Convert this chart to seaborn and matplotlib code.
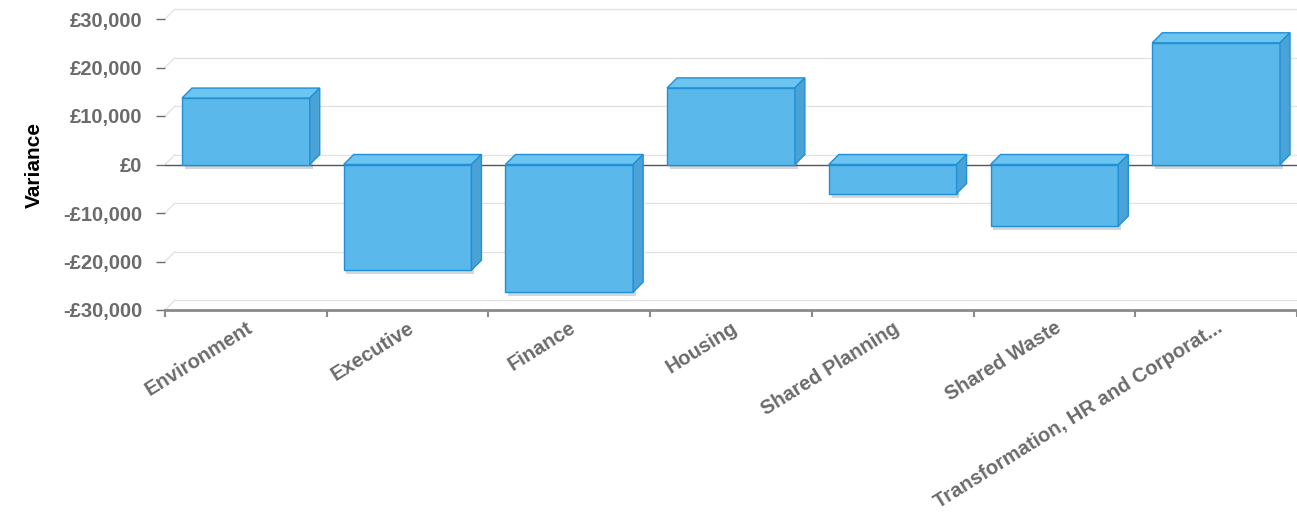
import matplotlib
matplotlib.use("Agg")
import matplotlib.pyplot as plt
import matplotlib.patheffects as pe
from matplotlib.patches import Polygon
from matplotlib.ticker import FuncFormatter
import seaborn as sns

# data
departments = ["Environment", "Executive", "Finance", "Housing",
               "Shared Planning", "Shared Waste", "Transformation, HR and Corporat..."]
variance = [13700, -21800, -26300, 15800, -6000, -12700, 25100]
y_ticks = [-30000, -20000, -10000, 0, 10000, 20000, 30000]

FRONT = "#5ab9ea"
TOP = "#6cc4f0"
SIDE = "#4aa2d6"
EDGE = "#2290d6"
GRID = "#e3e3e3"
LABEL = "#6b6b6b"

sns.set_theme(style="white")
plt.rcParams["font.family"] = ["Liberation Sans", "DejaVu Sans"]

W, H = 1297, 527
fig = plt.figure(figsize=(W / 100, H / 100), dpi=100)
ax = fig.add_axes([165 / W, 1 - 310 / H, 1 - 165 / W, (310 - 19) / H])

sns.barplot(x=departments, y=variance, color=FRONT, saturation=1, width=0.79,
            edgecolor=EDGE, linewidth=1, ax=ax, zorder=3)
ax.set_xlim(-0.5, len(departments) - 0.5)
ax.set_ylim(y_ticks[0], y_ticks[-1])

# pseudo-3D depth, ~10px right and up
px_x = (ax.get_xlim()[1] - ax.get_xlim()[0]) / (ax.bbox.width)
px_y = (ax.get_ylim()[1] - ax.get_ylim()[0]) / (ax.bbox.height)
dx, dy = 10 * px_x, 10 * px_y

# back wall grid
for t in y_ticks:
    ax.plot([-0.5 + dx, len(departments) - 0.5], [t + dy, t + dy], color=GRID, lw=1,
            zorder=0, clip_on=False)
    ax.plot([-0.5, -0.5 + dx], [t, t + dy], color=GRID, lw=1, zorder=0, clip_on=False)

for bar in ax.patches:
    bar.set_path_effects([pe.SimplePatchShadow(offset=(2, -3), alpha=0.2), pe.Normal()])
    x0, x1 = bar.get_x(), bar.get_x() + bar.get_width()
    y0, y1 = sorted([bar.get_y(), bar.get_y() + bar.get_height()])
    top = Polygon([(x0, y1), (x0 + dx, y1 + dy), (x1 + dx, y1 + dy), (x1, y1)],
                  facecolor=TOP, edgecolor=EDGE, lw=1, zorder=3, clip_on=False)
    side = Polygon([(x1, y0), (x1 + dx, y0 + dy), (x1 + dx, y1 + dy), (x1, y1)],
                   facecolor=SIDE, edgecolor=EDGE, lw=1, zorder=3, clip_on=False)
    ax.add_patch(top)
    ax.add_patch(side)

ax.axhline(0, color="#555555", lw=1, zorder=2)

# axes styling
for s in ["left", "top", "right"]:
    ax.spines[s].set_visible(False)
ax.spines["bottom"].set_color("#8a8a8a")
ax.spines["bottom"].set_linewidth(2)

ax.set_yticks(y_ticks)
ax.yaxis.set_major_formatter(FuncFormatter(
    lambda v, _: ("-" if v < 0 else "") + "£{:,.0f}".format(abs(v))))
ax.tick_params(axis="y", length=6.5, width=1, color=LABEL, pad=10,
               labelsize=14.5, labelcolor=LABEL, left=True)
for lab in ax.get_yticklabels():
    lab.set_fontweight("bold")

ax.set_xticks(range(len(departments)))
ax.set_xticks([i - 0.5 for i in range(len(departments) + 1)], minor=True)
ax.tick_params(axis="x", which="major", length=0, pad=6, labelsize=14.5, labelcolor=LABEL)
ax.tick_params(axis="x", which="minor", length=5, width=1.5, color="#8a8a8a", bottom=True)
ax.set_xticklabels(departments, rotation=32, ha="right", rotation_mode="anchor",
                   fontweight="bold")

ax.set_xlabel("")
ax.set_ylabel("Variance", fontsize=15, fontweight="bold", color="black", labelpad=14)

fig.savefig("out.png", dpi=100)
